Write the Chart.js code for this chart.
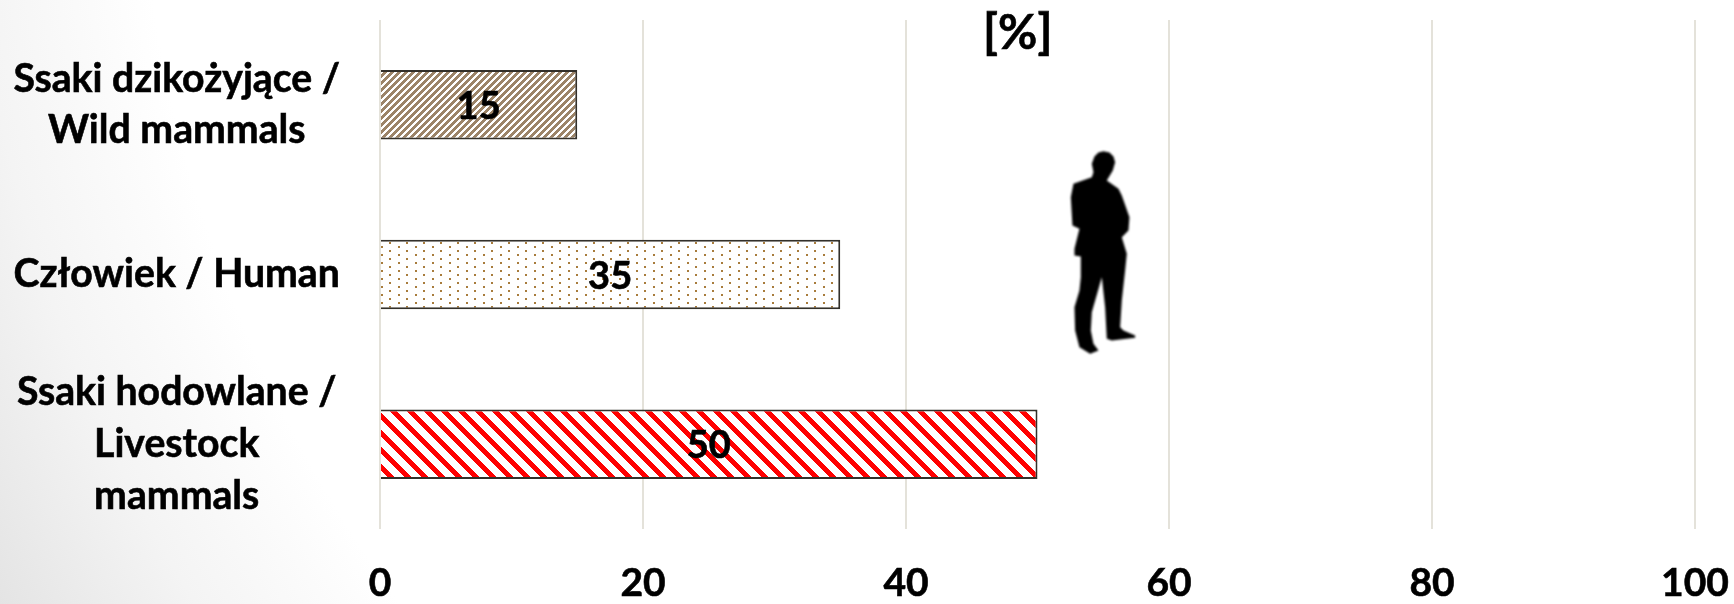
<!DOCTYPE html>
<html>
<head>
<meta charset="utf-8">
<style>
  html, body { margin: 0; padding: 0; width: 1734px; height: 604px; overflow: hidden; }
  body { background: radial-gradient(circle 1702px at 1500px -200px, #ffffff 80%, #f4f4f4 90%, #e4e4e4 100%); }
  #wrap { position: absolute; left: 0; top: 0; width: 1734px; height: 604px; }
</style>
</head>
<body>
<div id="wrap"><canvas id="c"></canvas></div>
<script src="https://cdn.jsdelivr.net/npm/chart.js@4/dist/chart.umd.min.js"></script>
<script>
const categories = [
  ['Ssaki dzikożyjące /', 'Wild mammals'],
  'Człowiek / Human',
  ['Ssaki hodowlane /', 'Livestock', 'mammals']
];
const shares = [15, 35, 50];
const xTicks = [0, 20, 40, 60, 80, 100];
const unitLabel = '[%]';
const FONT = 'Lato, Carlito, sans-serif';

// Silhouette outline of a standing man, drawn at one third of these units.
const figureOutline = [[190,62],[208,66],[220,78],[225,95],[218,120],[200,150],[235,175],[245,195],[268,260],[265,300],[245,320],[260,370],[255,420],[245,510],[240,590],[250,600],[285,615],[285,622],[215,630],[200,625],[195,530],[185,440],[155,545],[152,600],[160,640],[175,660],[150,670],[118,650],[105,600],[103,530],[118,480],[122,440],[122,378],[103,375],[103,355],[118,295],[97,285],[92,200],[100,160],[155,140],[160,125],[155,100],[163,78],[175,66]];

function makeStripes(color, period, width, dir, phase) {
  const c = document.createElement('canvas');
  c.width = period; c.height = period;
  const g = c.getContext('2d');
  g.fillStyle = '#fff'; g.fillRect(0, 0, period, period);
  g.fillStyle = color;
  for (let y = 0; y < period; y++) for (let x = 0; x < period; x++) {
    const k = ((x + dir * y - phase) % period + period) % period;
    if (k < width) g.fillRect(x, y, 1, 1);
  }
  return g.createPattern(c, 'repeat');
}
function makeDots(color) {
  const c = document.createElement('canvas');
  c.width = 17; c.height = 8;
  const g = c.getContext('2d');
  g.fillStyle = '#fff'; g.fillRect(0, 0, 17, 8);
  g.fillStyle = color;
  g.fillRect(15, 2, 2, 2);
  g.fillRect(7, 6, 2, 2);
  return g.createPattern(c, 'repeat');
}

const annotate = {
  id: 'annotate',
  afterDatasetsDraw(chart) {
    const { ctx, scales: { x, y } } = chart;
    ctx.save();
    ctx.fillStyle = '#000';
    ctx.strokeStyle = '#000';
    ctx.lineWidth = 0.6;
    ctx.textAlign = 'center';
    ctx.textBaseline = 'middle';
    ctx.font = 'bold 38px ' + FONT;
    shares.forEach((v, i) => {
      const px = x.getPixelForValue(v / 2), py = y.getPixelForValue(i) + 2;
      ctx.fillText(String(v), px, py);
      ctx.strokeText(String(v), px, py);
    });
    ctx.font = 'bold 48px ' + FONT;
    ctx.fillText(unitLabel, x.getPixelForValue(48.5), 34);
    ctx.strokeText(unitLabel, x.getPixelForValue(48.5), 34);
    ctx.restore();

    // Figure standing to the right of the bars
    ctx.save();
    ctx.translate(x.getPixelForValue(50.2), y.getPixelForValue(1) - 144);
    ctx.scale(1 / 3, 1 / 3);
    ctx.fillStyle = '#000';
    ctx.filter = 'blur(1px)';
    ctx.beginPath();
    figureOutline.forEach(([px, py], i) => i ? ctx.lineTo(px, py) : ctx.moveTo(px, py));
    ctx.closePath();
    ctx.fill();
    ctx.restore();
  }
};

new Chart(document.getElementById('c'), {
  type: 'bar',
  data: {
    labels: categories,
    datasets: [{
      data: shares,
      backgroundColor: [makeStripes('#9c8468', 7, 4, 1, 0), makeDots('#a87c3c'), makeStripes('#ff0000', 17, 7, -1, 13)],
      borderColor: '#33302a',
      borderWidth: 2,
      barPercentage: 0.41,
      categoryPercentage: 1
    }]
  },
  plugins: [annotate],
  options: {
    indexAxis: 'y',
    responsive: true,
    maintainAspectRatio: false,
    animation: false,
    layout: { padding: { top: 20, right: 39, bottom: 0, left: 0 } },
    plugins: { legend: { display: false }, tooltip: { enabled: false } },
    scales: {
      x: {
        min: 0, max: 100,
        afterBuildTicks(axis) { axis.ticks = xTicks.map(value => ({ value })); },
        afterFit(axis) { axis.height = 75; axis.paddingLeft = 0; axis.paddingRight = 0; },
        grid: { color: '#e4e2da', lineWidth: 2, drawTicks: false },
        border: { display: false },
        ticks: { color: '#000', font: { family: FONT, weight: 'bold', size: 39 }, padding: 31, maxRotation: 0, textStrokeColor: '#000', textStrokeWidth: 0.6 }
      },
      y: {
        grid: { display: false, drawTicks: false },
        border: { display: false },
        afterFit(axis) { axis.width = 380; axis.paddingTop = 0; axis.paddingBottom = 0; },
        ticks: { color: '#000', font: { family: FONT, weight: 'bold', size: 39.2, lineHeight: 1.32 }, padding: 40, crossAlign: 'center', autoSkip: false, textStrokeColor: '#000', textStrokeWidth: 0.6 }
      }
    }
  }
});
</script>
</body>
</html>
